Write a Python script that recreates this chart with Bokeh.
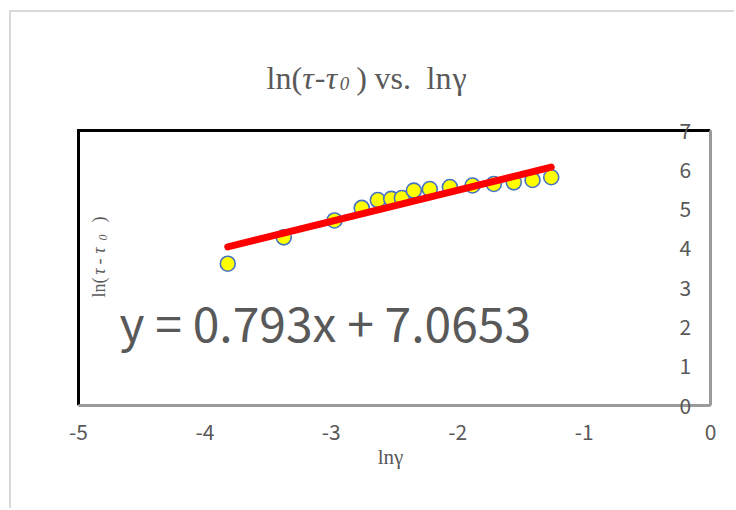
import math
from bokeh.plotting import figure
from bokeh.models import Range1d, FixedTicker, Label
from bokeh.embed import file_html
from bokeh.resources import INLINE

# ---- data ----
ln_gamma = [-3.819, -3.376, -2.975, -2.759, -2.632, -2.526, -2.442, -2.347,
            -2.221, -2.062, -1.883, -1.714, -1.556, -1.408, -1.260]
ln_tau_diff = [3.61, 4.28, 4.71, 5.03, 5.23, 5.26, 5.28, 5.47,
               5.51, 5.56, 5.60, 5.64, 5.68, 5.74, 5.81]
trend_slope = 0.793
trend_intercept = 7.0653
equation_text = "y = 0.793x + 7.0653"
x_ticks = [-5, -4, -3, -2, -1, 0]
y_ticks = [0, 1, 2, 3, 4, 5, 6, 7]
x_label = "lnγ"

GRAY_TEXT = "#595959"
SERIF = "Liberation Serif"
SANS = "Noto Sans CJK JP"

# ---- layout (page pixels) ----
OX, OY = 11, 12                      # figure origin on the page (inside the chart border)
W, H = 736 - OX, 510 - OY
FRAME_L = 70                         # frame left edge on the page (centres the x title)
PLOT_L, PLOT_R, PLOT_T, PLOT_B = 78, 710, 130, 405   # plot area on the page
xpx = (PLOT_R - PLOT_L) / (x_ticks[-1] - x_ticks[0])
ypx = (PLOT_B - PLOT_T) / (y_ticks[-1] - y_ticks[0])
x_start = x_ticks[0] - (PLOT_L - FRAME_L) / xpx
y_end = y_ticks[-1] + (PLOT_T - OY) / ypx

p = figure(width=W, height=H, output_backend="svg", toolbar_location=None, title=None,
           x_range=Range1d(x_start, x_ticks[-1]), y_range=Range1d(y_ticks[0], y_end),
           y_axis_location="right",
           min_border_left=FRAME_L - OX, min_border_top=0,
           min_border_right=OX + W - PLOT_R, min_border_bottom=OY + H - PLOT_B)
p.margin = (OY, 0, 0, OX)
p.styles = {"box-shadow": "-2px -2px 0 0 #d9d9d9"}
p.xgrid.visible = False
p.ygrid.visible = False
p.outline_line_color = None
p.background_fill_color = "white"
p.border_fill_color = "white"

xa = p.xaxis[0]
xa.ticker = FixedTicker(ticks=x_ticks)
xa.bounds = (x_ticks[0], x_ticks[-1])
xa.major_label_overrides = {t: str(t) for t in x_ticks}
xa.major_tick_line_color = None
xa.minor_tick_line_color = None
xa.major_tick_out = 0
xa.major_tick_in = 0
xa.axis_line_color = "#9a9a9a"
xa.axis_line_width = 3
xa.major_label_text_font = SANS
xa.major_label_text_font_size = "21px"
xa.major_label_text_color = GRAY_TEXT
xa.major_label_standoff = 18
xa.axis_label = x_label
xa.axis_label_text_font = SERIF
xa.axis_label_text_font_style = "normal"
xa.axis_label_text_font_size = "21px"
xa.axis_label_text_color = GRAY_TEXT
xa.axis_label_standoff = 2

ya = p.yaxis[0]
ya.ticker = FixedTicker(ticks=y_ticks)
ya.bounds = (y_ticks[0], y_ticks[-1])
ya.major_label_overrides = {t: str(t) for t in y_ticks}
ya.major_tick_line_color = None
ya.minor_tick_line_color = None
ya.major_tick_out = 0
ya.major_tick_in = 0
ya.axis_line_color = "#9a9a9a"
ya.axis_line_width = 3
ya.major_label_text_font = SANS
ya.major_label_text_font_size = "21px"
ya.major_label_text_color = GRAY_TEXT
ya.major_label_standoff = -31

# black left/top edges of the plot area
p.line([x_ticks[0], x_ticks[0], x_ticks[-1]], [y_ticks[0], y_ticks[-1], y_ticks[-1]],
       line_color="black", line_width=3, line_join="miter")

# data points and trend line
p.scatter(ln_gamma, ln_tau_diff, size=15, fill_color="#ffff00",
          line_color="#4472c4", line_width=1.6)
tx = [ln_gamma[0], ln_gamma[-1]]
ty = [trend_slope * v + trend_intercept for v in tx]
p.line(tx, ty, line_color="#ff0000", line_width=7, line_cap="round")


def lab(text, x, y, size, style="normal", align="left", angle=0, font=SERIF):
    """x, y are page pixels (top-down)."""
    p.add_layout(Label(x=x - OX, y=y - OY, x_units="canvas", y_units="canvas", text=text,
                       text_font=font, text_font_size=size, text_font_style=style,
                       text_color=GRAY_TEXT, text_align=align,
                       text_baseline="alphabetic", angle=angle))


# title  ln(τ-τ0 ) vs. lnγ
lab("ln(", 266, 77, "32px")
lab("τ", 307.5, 77, "32px", "italic", "center")
lab("-", 319.5, 77, "32px", "normal", "center")
lab("τ", 331, 77, "32px", "italic", "center")
lab("0", 344, 83, "19px", "italic", "center")
lab(")", 361, 77, "32px", "normal", "center")
lab("vs.", 374, 77, "32px")
lab("ln", 426, 77, "32px")
lab("γ", 459, 77, "32px", "normal", "center")

# y axis title  ln(τ-τ0 )
a = math.pi / 2
lab("ln(", 98, 297, "18px", "normal", "left", a)
lab("τ", 98, 271, "18px", "italic", "center", a)
lab("-", 98, 261, "18px", "normal", "center", a)
lab("τ", 98, 250, "18px", "italic", "center", a)
lab("0", 102, 237, "12px", "italic", "center", a)
lab(")", 98, 219, "18px", "normal", "center", a)

# trend line equation
lab(equation_text, 119, 320.5, "48px", font=SANS)

open("out.html", "w").write(file_html(p, INLINE))
